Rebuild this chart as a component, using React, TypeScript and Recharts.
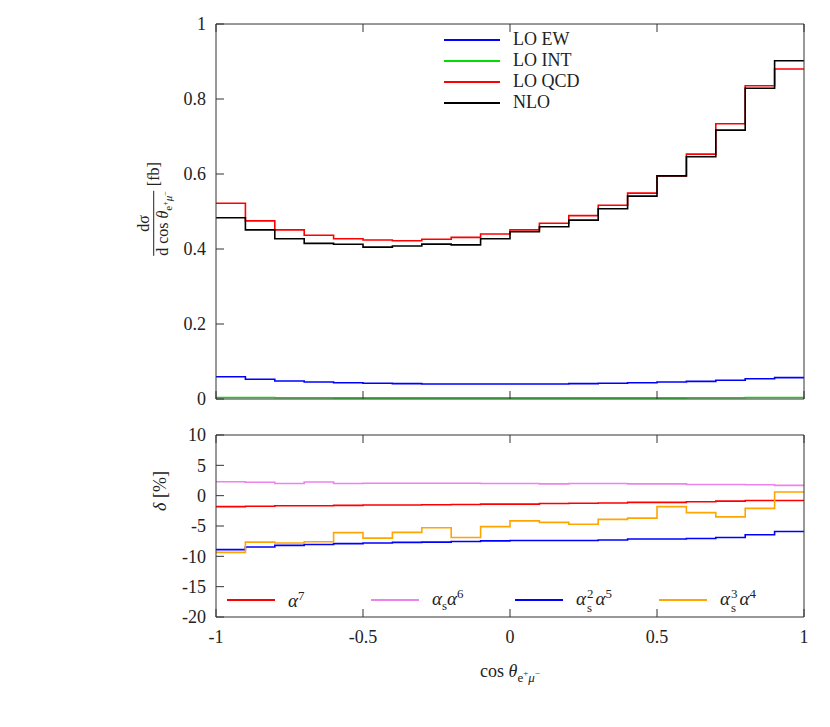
import React from 'react';
import { LineChart, Line, XAxis, YAxis, Legend } from 'recharts';

// bin edges of cos(theta), 20 bins + closing edge
const edges = [-1, -0.9, -0.8, -0.7, -0.6, -0.5, -0.4, -0.3, -0.2, -0.1, 0, 0.1, 0.2, 0.3, 0.4, 0.5, 0.6, 0.7, 0.8, 0.9, 1];
const xTicks = [-1, -0.5, 0, 0.5, 1];
const topYTicks = [0, 0.2, 0.4, 0.6, 0.8, 1];
const botYTicks = [-20, -15, -10, -5, 0, 5, 10];

// dsigma / dcos [fb]
const loEW = [0.0595, 0.0525, 0.048, 0.0455, 0.0435, 0.042, 0.041, 0.04, 0.04, 0.04, 0.04, 0.04, 0.041, 0.042, 0.0435, 0.0455, 0.047, 0.05, 0.054, 0.057];
const loINT = [0.004, 0.004, 0.0035, 0.0035, 0.003, 0.003, 0.003, 0.003, 0.003, 0.003, 0.003, 0.003, 0.003, 0.003, 0.003, 0.003, 0.0035, 0.0035, 0.004, 0.004];
const loQCD = [0.522, 0.475, 0.451, 0.4365, 0.4275, 0.424, 0.422, 0.426, 0.431, 0.44, 0.451, 0.4685, 0.489, 0.5165, 0.549, 0.595, 0.653, 0.734, 0.8355, 0.88];
const nlo = [0.4835, 0.451, 0.4275, 0.415, 0.4125, 0.405, 0.408, 0.413, 0.411, 0.4275, 0.446, 0.4595, 0.477, 0.5075, 0.541, 0.595, 0.646, 0.717, 0.8285, 0.902];

// relative corrections delta [%]
const a7 = [-1.8, -1.75, -1.65, -1.65, -1.6, -1.55, -1.55, -1.5, -1.45, -1.4, -1.4, -1.3, -1.25, -1.2, -1.1, -1.1, -1.0, -0.9, -0.8, -0.8];
const asA6 = [2.3, 2.2, 2.0, 2.25, 2.0, 2.05, 2.05, 2.05, 2.05, 2.0, 2.0, 1.95, 2.0, 2.0, 1.95, 1.95, 1.85, 1.85, 1.8, 1.7];
const as2A5 = [-8.9, -8.45, -8.2, -8.05, -7.9, -7.8, -7.7, -7.65, -7.55, -7.45, -7.4, -7.4, -7.4, -7.3, -7.15, -7.15, -7.05, -6.9, -6.45, -5.9];
const as3A4 = [-9.35, -7.65, -7.8, -7.6, -6.1, -7.0, -6.05, -5.3, -6.9, -5.1, -4.15, -4.4, -4.7, -3.9, -3.7, -1.8, -2.8, -3.5, -2.1, 0.6];

const topSeries = [
  { key: 'loEW', name: 'LO EW', color: '#0000ff' },
  { key: 'loINT', name: 'LO INT', color: '#00dd00' },
  { key: 'loQCD', name: 'LO QCD', color: '#ff0000' },
  { key: 'nlo', name: 'NLO', color: '#000000' },
];
const botSeries = [
  { key: 'a7', name: 'α^7', color: '#ff0000' },
  { key: 'asA6', name: 'α_s α^6', color: '#ee82ee' },
  { key: 'as2A5', name: 'α_s^2 α^5', color: '#0000ff' },
  { key: 'as3A4', name: 'α_s^3 α^4', color: '#ffa500' },
];

const serif = '"Liberation Serif", "Times New Roman", serif';
const axisColor = '#333';
const fs = 18;

// step data: value of a bin sits at its left edge, last bin repeated at x=1
const stepRows = (series: Record<string, number[]>) =>
  edges.map((x, i) => {
    const row: any = { x };
    Object.keys(series).forEach((k) => {
      const arr = series[k];
      row[k] = arr[Math.min(i, arr.length - 1)];
    });
    return row;
  });

const topRows = stepRows({ loEW, loINT, loQCD, nlo });
const botRows = stepRows({ a7, asA6, as2A5, as3A4 });

const tickStyle = { fontFamily: serif, fontSize: fs };

const bottomTick = (label: boolean) => (p: any) => (
  <g>
    <line x1={p.x} x2={p.x} y1={p.y} y2={p.y - 8} stroke={axisColor} />
    {label && (
      <text x={p.x} y={p.y + 26} textAnchor="middle" fill="#222" style={tickStyle}>
        {String(p.payload.value)}
      </text>
    )}
  </g>
);
const topTick = (p: any) => <line x1={p.x} x2={p.x} y1={p.y} y2={p.y + 8} stroke={axisColor} />;
const leftTick = (p: any) => (
  <g>
    <line x1={p.x} x2={p.x + 8} y1={p.y} y2={p.y} stroke={axisColor} />
    <text x={p.x - 10} y={p.y} dy="0.35em" textAnchor="end" fill="#222" style={tickStyle}>
      {String(p.payload.value)}
    </text>
  </g>
);
const rightTick = (p: any) => <line x1={p.x} x2={p.x - 8} y1={p.y} y2={p.y} stroke={axisColor} />;

const Alpha = () => <span style={{ fontStyle: 'italic' }}>α</span>;
const Sup = ({ t }: { t: string }) => <sup style={{ fontSize: '0.68em' }}>{t}</sup>;
// stacked super/subscript, like alpha_s^2
const SubSup = ({ sup, sub }: { sup: string; sub: string }) => (
  <span style={{ display: 'inline-flex', flexDirection: 'column', fontSize: '0.68em', lineHeight: 1.05, verticalAlign: 'middle', margin: '0 2px 0 1px' }}>
    <span>{sup}</span>
    <span>{sub}</span>
  </span>
);

const botLabels: Record<string, React.ReactNode> = {
  a7: (<><Alpha /><Sup t="7" /></>),
  asA6: (<><Alpha /><sub style={{ fontSize: '0.68em' }}>s</sub><Alpha /><Sup t="6" /></>),
  as2A5: (<><Alpha /><SubSup sup="2" sub="s" /><Alpha /><Sup t="5" /></>),
  as3A4: (<><Alpha /><SubSup sup="3" sub="s" /><Alpha /><Sup t="4" /></>),
};

const Swatch = ({ color, width, thick }: { color: string; width: number; thick: number }) => (
  <span style={{ display: 'inline-block', width, height: thick, background: color, marginRight: 13 }} />
);

const TopLegend = () => (
  <div style={{ fontFamily: serif, fontSize: fs, color: '#222' }}>
    {topSeries.map((s) => (
      <div key={s.key} style={{ display: 'flex', alignItems: 'center', height: 21 }}>
        <Swatch color={s.color} width={56} thick={2} />
        <span>{s.name}</span>
      </div>
    ))}
  </div>
);

const BotLegend = () => (
  <div style={{ fontFamily: serif, fontSize: 19, color: '#222', display: 'flex' }}>
    {botSeries.map((s) => (
      <div key={s.key} style={{ display: 'flex', alignItems: 'center', width: 144, height: 24 }}>
        <Swatch color={s.color} width={48} thick={2} />
        <span>{botLabels[s.key]}</span>
      </div>
    ))}
  </div>
);

const Frame = ({ domain, ticks, bottomLabels, bottomHeight }: any) => [
  <XAxis key="xb" dataKey="x" type="number" domain={[-1, 1]} ticks={xTicks} interval={0} height={bottomHeight}
    tickSize={0} tickMargin={0} tickLine={false} axisLine={{ stroke: axisColor }} tick={bottomTick(bottomLabels)} />,
  <XAxis key="xt" xAxisId="top" dataKey="x" orientation="top" type="number" domain={[-1, 1]} ticks={xTicks} interval={0}
    height={10} tickSize={0} tickMargin={0} tickLine={false} axisLine={{ stroke: axisColor }} tick={topTick} />,
  <YAxis key="yl" type="number" domain={domain} ticks={ticks} interval={0} width={216}
    tickSize={0} tickMargin={0} tickLine={false} axisLine={{ stroke: axisColor }} tick={leftTick} />,
  <YAxis key="yr" yAxisId="right" orientation="right" type="number" domain={domain} ticks={ticks} interval={0} width={26}
    tickSize={0} tickMargin={0} tickLine={false} axisLine={{ stroke: axisColor }} tick={rightTick} />,
];

const series = (list: any[]) =>
  list.map((s) => (
    <Line key={s.key} type="stepAfter" dataKey={s.key} name={s.name} stroke={s.color} strokeWidth={1.6}
      dot={false} activeDot={false} isAnimationActive={false} />
  ));

export default function App() {
  return (
    <div style={{ position: 'absolute', left: 0, top: 0, width: 830, height: 727, background: '#fff', fontFamily: serif }}>
      <div style={{ position: 'absolute', left: 0, top: 0 }}>
        <LineChart width={830} height={410} data={topRows} margin={{ top: 14, right: 0, bottom: 0, left: 0 }}>
          {Frame({ domain: [0, 1], ticks: topYTicks, bottomLabels: false, bottomHeight: 11 })}
          <Legend verticalAlign="middle" align="center" layout="horizontal" content={<TopLegend />}
            wrapperStyle={{ left: 444, top: 29, width: 200 }} />
          {series(topSeries)}
        </LineChart>
      </div>
      <div style={{ position: 'absolute', left: 0, top: 425 }}>
        <LineChart width={830} height={302} data={botRows} margin={{ top: 0, right: 0, bottom: 0, left: 0 }}>
          {Frame({ domain: [-20, 10], ticks: botYTicks, bottomLabels: true, bottomHeight: 110 })}
          <Legend verticalAlign="middle" align="center" layout="horizontal" content={<BotLegend />}
            wrapperStyle={{ left: 227, top: 163, width: 580 }} />
          {series(botSeries)}
        </LineChart>
      </div>

      {/* y label, top panel */}
      <div style={{ position: 'absolute', left: 154, top: 209, transform: 'translate(-50%, -50%) rotate(-90deg)', whiteSpace: 'nowrap', color: '#222', fontSize: 16, display: 'flex', alignItems: 'center' }}>
        <span style={{ display: 'inline-flex', flexDirection: 'column', alignItems: 'center', lineHeight: 1.05 }}>
          <span>dσ</span>
          <span style={{ borderTop: '1px solid #222', paddingTop: 1 }}>
            d cos <i>θ</i>
            <span style={{ fontSize: 11, position: 'relative', top: 4 }}>e<sup style={{ fontSize: 8 }}>+</sup><i>μ</i><sup style={{ fontSize: 8 }}>−</sup></span>
          </span>
        </span>
        <span style={{ marginLeft: 5 }}>[fb]</span>
      </div>

      {/* y label, bottom panel */}
      <div style={{ position: 'absolute', left: 160, top: 491, transform: 'translate(-50%, -50%) rotate(-90deg)', whiteSpace: 'nowrap', color: '#222', fontSize: fs }}>
        <i>δ</i> [%]
      </div>

      {/* x label */}
      <div style={{ position: 'absolute', left: 510, top: 671, transform: 'translate(-50%, -50%)', whiteSpace: 'nowrap', color: '#222', fontSize: fs }}>
        cos <i>θ</i>
        <span style={{ fontSize: 13, position: 'relative', top: 5 }}>e<sup style={{ fontSize: 9 }}>+</sup><i>μ</i><sup style={{ fontSize: 9 }}>−</sup></span>
      </div>
    </div>
  );
}
